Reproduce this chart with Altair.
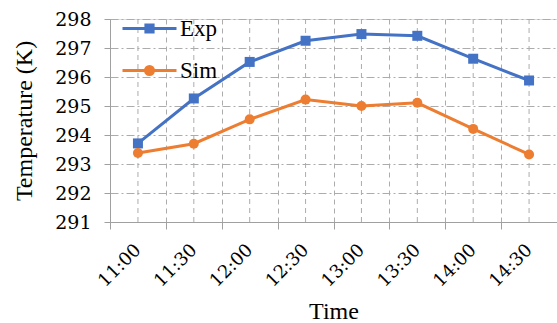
import altair as alt
import pandas as pd

times = ["11:00", "11:30", "12:00", "12:30", "13:00", "13:30", "14:00", "14:30"]
exp_vals = [293.71, 295.26, 296.52, 297.25, 297.48, 297.42, 296.63, 295.88]
sim_vals = [293.38, 293.70, 294.54, 295.22, 295.00, 295.11, 294.21, 293.33]
series_names = ["Exp", "Sim"]
colors = ["#4472C4", "#ED7D31"]
y_ticks = [291, 292, 293, 294, 295, 296, 297, 298]

df = pd.DataFrame({
    "time": times * 2,
    "temp": exp_vals + sim_vals,
    "series": ["Exp"] * len(times) + ["Sim"] * len(times),
})
grid_df = pd.DataFrame({"time": times})

FONT = "Liberation Serif"
NUMFONT = "DejaVu Serif"
GRID = "#acacac"
AXIS = "#a0a0a0"

xscale = alt.Scale(type="band", domain=times, paddingInner=0, paddingOuter=0)
yscale = alt.Scale(domain=[291, 298], nice=False, zero=False)
cscale = alt.Scale(domain=series_names, range=colors)

x_axis = alt.Axis(
    title="Time", tickBand="extent", labelAngle=-45, labelAlign="right", labelBaseline="middle",
    grid=True, gridColor=GRID, gridDash=[5, 4], gridWidth=1,
    domainColor=AXIS, tickColor=AXIS, tickSize=7, labelPadding=18,
    labelFont=NUMFONT, labelFontSize=18, labelColor="black",
    titleFont=FONT, titleFontSize=24, titleFontWeight="normal", titleColor="black",
    titlePadding=9,
)
y_axis = alt.Axis(
    title="Temperature (K)", values=y_ticks, grid=True,
    gridColor=GRID, gridDash=[8, 3, 2, 3], gridWidth=1,
    domainColor=AXIS, tickColor=AXIS, tickSize=6, labelPadding=13,
    labelFont=NUMFONT, labelFontSize=19, labelColor="black",
    titleFont=FONT, titleFontSize=24, titleFontWeight="normal", titleColor="black",
    titlePadding=18,
)
x_enc = alt.X("time:N", scale=xscale, axis=x_axis)
y_enc = alt.Y("temp:Q", scale=yscale, axis=y_axis)

vgrid = alt.Chart(grid_df).mark_rule(color=GRID, strokeDash=[5, 4], strokeWidth=1).encode(
    x=x_enc,
)

lines = alt.Chart(df).mark_line(strokeWidth=3).encode(
    x=x_enc, y=y_enc,
    color=alt.Color("series:N", scale=cscale, legend=None),
)

pts = alt.Chart(df).mark_point(filled=True, opacity=1).encode(
    x=x_enc, y=y_enc,
    color=alt.Color("series:N", scale=cscale, legend=None),
    shape=alt.Shape("series:N", scale=alt.Scale(domain=series_names, range=["square", "circle"]), legend=None),
    size=alt.value(100),
)

leg = alt.Legend(
    title=None, orient="none", legendX=18, legendY=-12, padding=0, offset=0,
    symbolSize=1600, symbolStrokeWidth=3, symbolOpacity=1, rowPadding=8,
    labelFont=FONT, labelFontSize=23, labelColor="black", labelOffset=9,
)
legend_paths = [
    "M-1.35,0H1.35M-0.18,-0.18H0.18V0.18H-0.18Z",
    "M-1.35,0H1.35M0.2,0A0.2,0.2,0,1,1,-0.2,0A0.2,0.2,0,1,1,0.2,0Z",
]
ghost = alt.Chart(df).mark_point(filled=True, opacity=0).encode(
    x=x_enc, y=y_enc,
    color=alt.Color("series:N", scale=cscale, legend=leg),
    stroke=alt.Stroke("series:N", scale=cscale, legend=leg),
    shape=alt.Shape("series:N", scale=alt.Scale(domain=series_names, range=legend_paths), legend=leg),
)

chart = alt.layer(vgrid, lines, pts, ghost).resolve_scale(
    color="independent", shape="independent", stroke="independent"
).properties(
    width=447, height=203,
    autosize=alt.AutoSizeParams(type="none"),
    padding={"left": 110, "top": 19, "right": 0, "bottom": 101},
).configure_view(stroke=None).configure(background="white")

chart.save("out.html", embed_options={"renderer": "svg", "actions": False})
